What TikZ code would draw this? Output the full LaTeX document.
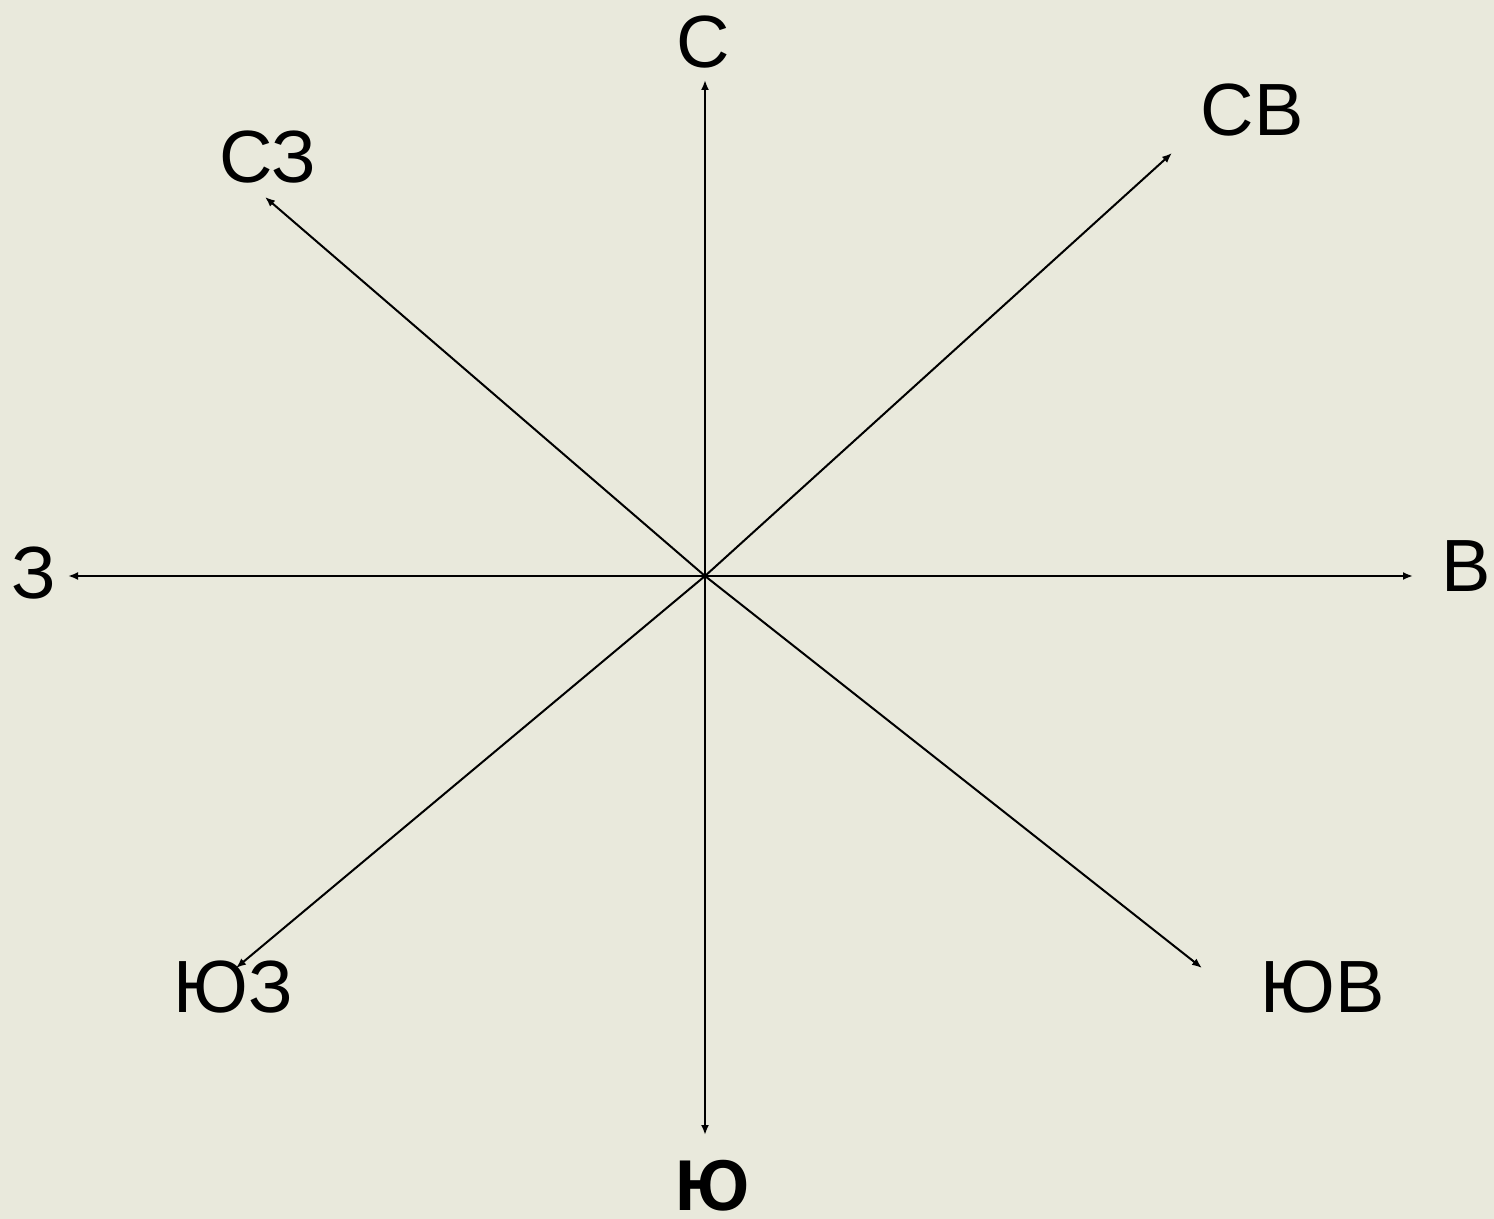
\documentclass[tikz,border=0pt]{standalone}
\usepackage{fontspec}
\setmainfont{Liberation Sans}
\usetikzlibrary{arrows.meta}
\definecolor{bgcol}{HTML}{E9E9DC}
\begin{document}
\begin{tikzpicture}[x=0.5pt,y=-0.5pt,
  ray/.style={line width=1pt,-{Latex[length=5pt,width=4pt]}},
  lbl/.style={inner sep=0pt,font=\fontsize{37}{40}\selectfont}]
\fill[bgcol] (0,0) rectangle (1494,1219);
\useasboundingbox (0,0) rectangle (1494,1219);
\coordinate (O) at (705,576);
\coordinate (n) at (705,80);
\coordinate (s) at (705,1135);
\coordinate (w) at (68,576);
\coordinate (e) at (1413,576);
\coordinate (ne) at (1172,153);
\coordinate (nw) at (265,197);
\coordinate (sw) at (236,968);
\coordinate (se) at (1202,968);
\foreach \t in {n,s,w,e,ne,nw,sw,se} \draw[ray] (O) -- (\t);
\node[lbl] (lN) at (703,42) {С};
\node[lbl] (lNE) at (1252,110) {СВ};
\node[lbl] (lNW) at (268,157) {СЗ};
\node[lbl] (lW) at (34,573) {З};
\node[lbl] (lE) at (1466,566) {В};
\node[lbl] (lSW) at (233,987) {ЮЗ};
\node[lbl] (lSE) at (1323,987) {ЮВ};
\node[lbl,font=\fontsize{36}{40}\selectfont\bfseries] (lS) at (713,1186) {Ю};
\end{tikzpicture}
\end{document}
